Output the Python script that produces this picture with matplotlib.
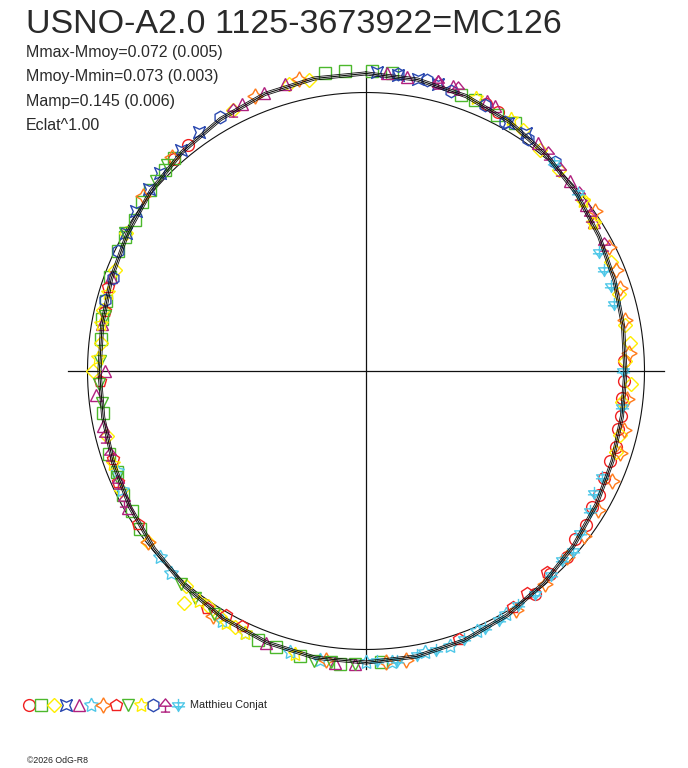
import numpy as np
import matplotlib.pyplot as plt
from matplotlib.path import Path

# fitted light curve (delta mag vs phase, read every 10 degrees)
fit_deg = list(range(0, 360, 10))
fit_dmag = [-0.072, -0.066, -0.053, -0.034, -0.011, 0.012, 0.035, 0.053, 0.066, 0.072,
            0.070, 0.061, 0.046, 0.027, 0.006, -0.014, -0.031, -0.043, -0.049, -0.048,
            -0.040, -0.027, -0.011, 0.007, 0.023, 0.036, 0.044, 0.045, 0.040, 0.028,
            0.012, -0.008, -0.028, -0.047, -0.062, -0.070]
fit_err = 0.006

# observations, one pair of lists per session
s01_phase = [0.883, 0.894, 0.067, 0.075, 0.244, 0.256, 0.267, 0.278, 0.286, 0.297,
             0.306, 0.317, 0.328, 0.336, 0.347, 0.358, 0.369, 0.383, 0.397]
s01_dmag = [-0.030, -0.036, -0.053, -0.044, 0.075, 0.078, 0.081, 0.072, 0.076, 0.064,
            0.069, 0.067, 0.053, 0.055, 0.039, 0.038, 0.017, 0.016, -0.006]

s02_phase = [0.822, 0.831, 0.842, 0.853, 0.861, 0.875, 0.883, 0.978, 0.989, 0.003,
             0.014, 0.053, 0.061, 0.075, 0.086, 0.492, 0.514, 0.536, 0.550, 0.561,
             0.653, 0.664, 0.675, 0.689, 0.700, 0.725, 0.769, 0.781, 0.792, 0.806]
s02_dmag = [0.012, 0.010, 0.008, -0.008, -0.013, -0.022, -0.032, -0.083, -0.083, -0.083,
            -0.079, -0.051, -0.053, -0.034, -0.040, -0.049, -0.059, -0.052, -0.046, -0.043,
            0.011, 0.023, 0.022, 0.036, 0.032, 0.048, 0.044, 0.035, 0.034, 0.022]

s03_phase = [0.925, 0.958, 0.969, 0.092, 0.106, 0.122, 0.144, 0.158, 0.183, 0.203,
             0.222, 0.233, 0.244, 0.258, 0.269, 0.289, 0.300, 0.575, 0.586, 0.594,
             0.606, 0.611, 0.644, 0.678, 0.711, 0.750, 0.767, 0.786, 0.811, 0.833]
s03_dmag = [-0.056, -0.070, -0.067, -0.033, -0.012, -0.001, 0.009, 0.024, 0.040, 0.053,
            0.060, 0.049, 0.072, 0.048, 0.079, 0.062, 0.058, -0.035, -0.027, -0.017,
            -0.062, -0.008, 0.006, 0.025, 0.045, 0.019, 0.046, 0.032, 0.028, 0.007]

s04_phase = [0.833, 0.847, 0.861, 0.872, 0.889, 0.903, 0.006, 0.017, 0.028, 0.039,
             0.083, 0.094]
s04_dmag = [0.006, -0.006, -0.018, -0.028, -0.038, -0.050, -0.077, -0.072, -0.068, -0.067,
            -0.028, -0.030]

s05_phase = [0.931, 0.944, 0.956, 0.011, 0.022, 0.039, 0.047, 0.067, 0.072, 0.103,
             0.131, 0.147, 0.158, 0.506, 0.517, 0.556, 0.667, 0.717, 0.736, 0.750,
             0.778, 0.806]
s05_dmag = [-0.061, -0.066, -0.075, -0.078, -0.071, -0.076, -0.075, -0.065, -0.060, -0.026,
            -0.001, 0.009, 0.024, -0.055, -0.058, -0.044, 0.015, 0.036, 0.028, 0.066,
            0.040, 0.024]

s06_phase = [0.417, 0.436, 0.453, 0.467, 0.486, 0.500, 0.525, 0.542, 0.569, 0.583,
             0.622, 0.633, 0.678, 0.689]
s06_dmag = [-0.008, -0.016, -0.033, -0.033, -0.050, -0.047, -0.054, -0.048, -0.040, -0.037,
            -0.008, 0.005, 0.026, 0.037]

s07_phase = [0.153, 0.175, 0.189, 0.200, 0.219, 0.239, 0.267, 0.286, 0.300, 0.317,
             0.336, 0.353, 0.369, 0.389, 0.411, 0.478, 0.489, 0.522, 0.589, 0.644,
             0.856, 0.883, 0.939, 0.964]
s07_dmag = [-0.004, 0.022, 0.034, 0.043, 0.055, 0.058, 0.060, 0.050, 0.045, 0.035,
            0.030, 0.020, 0.019, 0.000, -0.014, -0.050, -0.049, -0.052, -0.038, 0.006,
            -0.018, -0.040, -0.069, -0.080]

s08_phase = [0.383, 0.400, 0.411, 0.447, 0.572, 0.583, 0.594, 0.656, 0.683, 0.697,
             0.744, 0.786, 0.800]
s08_dmag = [0.030, 0.016, 0.002, -0.019, -0.020, -0.012, -0.025, 0.013, 0.027, 0.039,
            0.047, 0.040, 0.026]

s09_phase = [0.506, 0.519, 0.528, 0.589, 0.603, 0.614, 0.686, 0.731, 0.742, 0.756,
             0.783, 0.833, 0.867, 0.878]
s09_dmag = [-0.055, -0.056, -0.062, -0.032, -0.022, -0.013, 0.028, 0.048, 0.043, 0.046,
            0.044, 0.004, -0.018, -0.030]

s10_phase = [0.061, 0.083, 0.144, 0.158, 0.539, 0.569, 0.581, 0.600, 0.694, 0.758,
             0.778, 0.797]
s10_dmag = [-0.061, -0.044, 0.011, 0.026, -0.049, -0.038, -0.036, -0.022, 0.034, 0.038,
            0.036, 0.034]

s11_phase = [0.017, 0.033, 0.047, 0.067, 0.081, 0.097, 0.117, 0.792, 0.806, 0.822, 0.917]
s11_dmag = [-0.076, -0.073, -0.053, -0.049, -0.026, -0.019, -0.012, 0.030, 0.032, 0.012,
            -0.055]

s12_phase = [0.039, 0.050, 0.111, 0.122, 0.139, 0.153, 0.172, 0.672, 0.683, 0.700,
             0.711, 0.925]
s12_dmag = [-0.073, -0.072, -0.021, -0.006, 0.004, 0.020, 0.033, 0.016, 0.025, 0.034,
            0.035, -0.056]

s13_phase = [0.117, 0.139, 0.175, 0.186, 0.197, 0.208, 0.250, 0.272, 0.317, 0.328,
             0.339, 0.353, 0.364, 0.372, 0.383, 0.397, 0.408, 0.422, 0.431, 0.444,
             0.461, 0.472, 0.483, 0.494]
s13_dmag = [-0.008, 0.008, 0.064, 0.074, 0.072, 0.081, 0.080, 0.075, 0.075, 0.074,
            0.053, 0.038, 0.015, 0.023, 0.012, -0.004, -0.002, -0.014, -0.016, -0.027,
            -0.036, -0.039, -0.048, -0.044]

title = "USNO-A2.0 1125-3673922=MC126"
stats = ["Mmax-Mmoy=0.072 (0.005)", "Mmoy-Mmin=0.073 (0.003)",
         "Mamp=0.145 (0.006)", "Eclat^1.00"]
observer = "Matthieu Conjat"
footer = "\u00a92026 OdG-R8"

# ---- layout (pixel coords) ----
CX, CY = 366, 371      # centre of the polar plot
R0 = 278.5             # radius of mean magnitude
K = 265.0              # pixels per magnitude
RCROSS = 298

# custom marker shapes
concave_box = Path([(1, 1), (0, 0.55), (-1, 1), (-0.55, 0), (-1, -1), (0, -0.55),
                    (1, -1), (0.55, 0), (1, 1)])
trefoil = Path([(0, 1), (-0.9, -0.1), (0.9, -0.1), (0, 1),
                (0, -0.1), (0, -1), (-0.7, -1), (0.7, -1)],
               [Path.MOVETO, Path.LINETO, Path.LINETO, Path.CLOSEPOLY,
                Path.MOVETO, Path.LINETO, Path.MOVETO, Path.LINETO])
flake = Path([(-0.9, 0.4), (0.9, 0.4), (0, -0.8), (-0.9, 0.4),
              (0, 1), (0, -1), (-1, -0.2), (1, -0.2)],
             [Path.MOVETO, Path.LINETO, Path.LINETO, Path.CLOSEPOLY,
              Path.MOVETO, Path.LINETO, Path.MOVETO, Path.LINETO])

RED, GREEN, YELLOW, BLUE = '#f02020', '#4cb82c', '#ffee00', '#2a48b0'
MAGENTA, CYAN, ORANGE = '#b0207e', '#50c8e8', '#ff7a1a'

styles = [('o', RED, 8.5), ('s', GREEN, 8), ('D', YELLOW, 7), (concave_box, BLUE, 8.5),
          ('^', MAGENTA, 9), ((5, 1, 0), CYAN, 10.5), ((4, 1, 0), ORANGE, 11),
          ('p', RED, 9), ('v', GREEN, 9), ((5, 1, 0), YELLOW, 10.5), ('h', BLUE, 9),
          (trefoil, MAGENTA, 9.5), (flake, CYAN, 9.5)]
data = [(s01_phase, s01_dmag), (s02_phase, s02_dmag), (s03_phase, s03_dmag),
        (s04_phase, s04_dmag), (s05_phase, s05_dmag), (s06_phase, s06_dmag),
        (s07_phase, s07_dmag), (s08_phase, s08_dmag), (s09_phase, s09_dmag),
        (s10_phase, s10_dmag), (s11_phase, s11_dmag), (s12_phase, s12_dmag),
        (s13_phase, s13_dmag)]


def to_xy(phase, dmag, shift=0.0):
    t = 2 * np.pi * np.asarray(phase, dtype=float)
    r = R0 - K * (np.asarray(dmag, dtype=float) + shift)
    return CX + r * np.sin(t), CY - r * np.cos(t)


fig = plt.figure(figsize=(6.88, 7.68), dpi=100)
ax = fig.add_axes([0, 0, 1, 1])
ax.set_xlim(0, 688)
ax.set_ylim(768, 0)
ax.axis('off')

# mean circle and cross
tt = np.linspace(0, 2 * np.pi, 400)
ax.plot(CX + R0 * np.cos(tt), CY + R0 * np.sin(tt), color='#111111', lw=0.8)
ax.plot([CX - RCROSS, CX + RCROSS], [CY, CY], color='#111111', lw=0.9)
ax.plot([CX, CX], [CY - RCROSS, CY + RCROSS], color='#111111', lw=0.9)

# observations
for (ph, dm), (mk, col, ms) in zip(data, styles):
    x, y = to_xy(ph, dm)
    ax.plot(x, y, linestyle='none', marker=mk, ms=ms, mfc='none', mec=col, mew=1.0,
            zorder=3)

# fitted curve with its error envelope
fph = np.array(fit_deg + [360]) / 360.0
fdm = np.array(fit_dmag + [fit_dmag[0]])
for sh, lw in [(0.0, 0.8), (fit_err, 0.6), (-fit_err, 0.6)]:
    x, y = to_xy(fph, fdm, sh)
    ax.plot(x, y, color='#111111', lw=lw, zorder=4)

# texts
ax.text(26, 33, title, fontsize=24.5, family='Liberation Sans', color='#2a2a2a',
        va='baseline', ha='left')
for i, s in enumerate(stats):
    ax.text(26, 57 + 24.5 * i, s, fontsize=11.5, family='Liberation Sans',
            color='#2a2a2a', va='baseline', ha='left')

# legend row
for i, (mk, col, ms) in enumerate(styles):
    ax.plot([29 + 12.4 * i], [705], linestyle='none', marker=mk, ms=ms, mfc='none',
            mec=col, mew=1.0)
ax.text(190, 705, observer, fontsize=7.8, family='Liberation Sans', color='#222222',
        va='center', ha='left')
ax.text(27, 763, footer, fontsize=6.3, family='Liberation Sans', color='#222222',
        va='baseline', ha='left')

fig.savefig('out.png', dpi=100)
